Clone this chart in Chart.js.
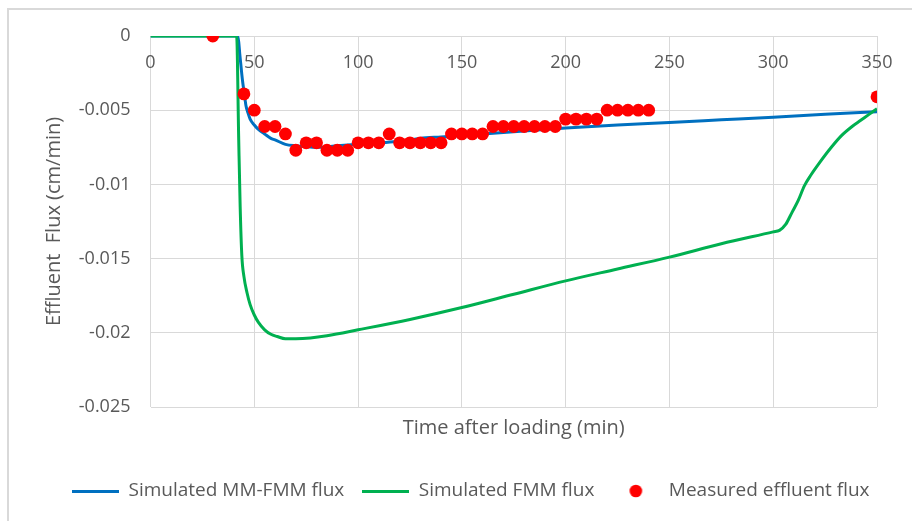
<!DOCTYPE html>
<html>
<head>
<meta charset="utf-8">
<script src="https://cdn.jsdelivr.net/npm/chart.js@4.4.1/dist/chart.umd.min.js"></script>
<style>
  html, body { margin: 0; padding: 0; background: #ffffff; overflow: hidden; }
  #frame { position: absolute; left: 7px; top: 8px; width: 1000px; height: 1000px; border: 2px solid #d9d9d9; box-sizing: border-box; }
  #c { position: absolute; left: 0; top: 0; }
</style>
</head>
<body>
<div id="frame"></div>
<canvas id="c" width="912" height="521"></canvas>
<script>
// ---- data ----
const seriesNames = ['Simulated MM-FMM flux', 'Simulated FMM flux', 'Measured effluent flux'];

const mmTime = [0, 42, 42.5, 43, 43.5, 44, 44.5, 45, 46, 47, 48, 50, 52, 55, 58, 60, 65, 70, 80, 90, 100, 110, 120, 130, 140, 150, 160, 170, 180, 190, 200, 225, 250, 275, 300, 325, 350];
const mmFlux = [0, 0, -0.0004, -0.0012, -0.0019, -0.0026, -0.0032, -0.0037, -0.0047, -0.0052, -0.0056, -0.0060, -0.0063, -0.0066, -0.0069, -0.0070, -0.0073, -0.0074, -0.0075, -0.0074, -0.0073, -0.0072, -0.0071, -0.0069, -0.0068, -0.0067, -0.0066, -0.0065, -0.0064, -0.0063, -0.0062, -0.0060, -0.00583, -0.00565, -0.00547, -0.00528, -0.0051];

const fmmTime = [0, 41.5, 42.5, 43.2, 44, 45, 46.5, 48, 50, 52, 55, 58, 61, 65, 70, 77, 85, 100, 125, 150, 175, 200, 225, 250, 275, 300, 303, 306, 309, 312, 315, 318, 322, 328, 333, 338, 342, 346, 350];
const fmmFlux = [0, 0, -0.0070, -0.0115, -0.0148, -0.0162, -0.0173, -0.0181, -0.0188, -0.0193, -0.0198, -0.0201, -0.02025, -0.0204, -0.0204, -0.02035, -0.0202, -0.0198, -0.0191, -0.0183, -0.0174, -0.0165, -0.0157, -0.0149, -0.0140, -0.0132, -0.0131, -0.0127, -0.0119, -0.0111, -0.0101, -0.0094, -0.0086, -0.0075, -0.0067, -0.0061, -0.0057, -0.0053, -0.0049];

const measTime = [30, 45, 50, 55, 60, 65, 70, 75, 80, 85, 90, 95, 100, 105, 110, 115, 120, 125, 130, 135, 140, 145, 150, 155, 160, 165, 170, 175, 180, 185, 190, 195, 200, 205, 210, 215, 220, 225, 230, 235, 240, 350];
const measFlux = [0, -0.0039, -0.0050, -0.0061, -0.0061, -0.0066, -0.0077, -0.0072, -0.0072, -0.0077, -0.0077, -0.0077, -0.0072, -0.0072, -0.0072, -0.0066, -0.0072, -0.0072, -0.0072, -0.0072, -0.0072, -0.0066, -0.0066, -0.0066, -0.0066, -0.0061, -0.0061, -0.0061, -0.0061, -0.0061, -0.0061, -0.0061, -0.0056, -0.0056, -0.0056, -0.0056, -0.0050, -0.0050, -0.0050, -0.0050, -0.0050, -0.0041];

const xTickLabels = ['0', '50', '100', '150', '200', '250', '300', '350'];
const yTickLabels = ['0', '-0.005', '-0.01', '-0.015', '-0.02', '-0.025'];
const xTitle = 'Time after loading (min)';
const yTitle = 'Effluent  Flux (cm/min)';

// ---- styles ----
const BLUE = '#0070C0', GREEN = '#00B050', RED = '#FF0000', TXT = '#595959', GRID = '#d9d9d9';
const FONT = 'Open Sans';

function pts(xs, ys) { return xs.map((x, i) => ({ x: x, y: ys[i] })); }

function lineIcon(color) {
  const c = document.createElement('canvas');
  c.width = 47; c.height = 3;
  const g = c.getContext('2d');
  g.fillStyle = color; g.fillRect(0, 0, 47, 3);
  return c;
}
function dotIcon(color) {
  const c = document.createElement('canvas');
  c.width = 47; c.height = 14;
  const g = c.getContext('2d');
  g.fillStyle = color; g.beginPath(); g.arc(23.5, 7, 6.3, 0, Math.PI * 2); g.fill();
  return c;
}
const legendIcons = [lineIcon(BLUE), lineIcon(GREEN), dotIcon(RED)];

function labelFor(arr, v) {
  for (const s of arr) { if (Math.abs(parseFloat(s) - v) < 1e-9) return s; }
  return '';
}

const ctx = document.getElementById('c').getContext('2d');
new Chart(ctx, {
  type: 'scatter',
  data: {
    datasets: [
      { label: seriesNames[0], data: pts(mmTime, mmFlux), showLine: true, borderColor: BLUE, backgroundColor: BLUE,
        borderWidth: 3, pointRadius: 0, cubicInterpolationMode: 'monotone', order: 3 },
      { label: seriesNames[1], data: pts(fmmTime, fmmFlux), showLine: true, borderColor: GREEN, backgroundColor: GREEN,
        borderWidth: 3, pointRadius: 0, cubicInterpolationMode: 'monotone', order: 2 },
      { label: seriesNames[2], data: pts(measTime, measFlux), showLine: false, borderColor: RED, backgroundColor: RED,
        borderWidth: 0, pointRadius: 6.4, pointStyle: 'circle', order: 1 }
    ]
  },
  options: {
    responsive: false,
    animation: false,
    devicePixelRatio: 1,
    layout: { padding: { left: 54, right: 0, top: 36, bottom: 10.5 } },
    plugins: {
      tooltip: { enabled: false },
      legend: {
        position: 'bottom',
        align: 'start',
        labels: {
          usePointStyle: true,
          pointStyleWidth: 47,
          padding: 18,
          color: TXT,
          font: { family: FONT, size: 19 },
          sort: (a, b) => a.datasetIndex - b.datasetIndex,
          generateLabels: (chart) => {
            const items = Chart.defaults.plugins.legend.labels.generateLabels(chart);
            items.forEach(it => { it.pointStyle = legendIcons[it.datasetIndex]; });
            return items;
          }
        }
      }
    },
    scales: {
      x: {
        type: 'linear',
        position: { y: 0 },
        min: 0, max: 350,
        grid: { color: GRID, lineWidth: 1, drawTicks: false },
        border: { display: true, color: GRID, width: 1 },
        ticks: {
          stepSize: 50, padding: 16, color: TXT, font: { family: FONT, size: 18 },
          maxRotation: 0, autoSkip: false,
          callback: (v) => labelFor(xTickLabels, v)
        }
      },
      x2: {
        type: 'linear',
        position: 'bottom',
        min: 0, max: 350,
        grid: { display: false, drawTicks: false },
        border: { display: false },
        ticks: { display: false },
        title: { display: true, text: xTitle, color: TXT, font: { family: FONT, size: 20 }, padding: { top: 0, bottom: 23.5 } },
        afterFit: (s) => { s.height = 56.5; }
      },
      y: {
        type: 'linear',
        position: 'left',
        min: -0.025, max: 0,
        grid: { color: GRID, lineWidth: 1, drawTicks: false },
        border: { display: false },
        ticks: {
          stepSize: 0.005, padding: 20, color: TXT, font: { family: FONT, size: 18 },
          callback: (v) => labelFor(yTickLabels, v)
        },
        title: { display: true, text: yTitle, color: TXT, font: { family: FONT, size: 20 }, padding: { top: -12, bottom: 0 } },
        afterFit: (s) => { s.width = 96.5; }
      },
      yR: {
        type: 'linear',
        position: 'right',
        min: -0.025, max: 0,
        grid: { display: false, drawTicks: false },
        border: { display: false },
        ticks: { display: false },
        afterFit: (s) => { s.width = 35; }
      }
    }
  }
});
</script>
</body>
</html>
